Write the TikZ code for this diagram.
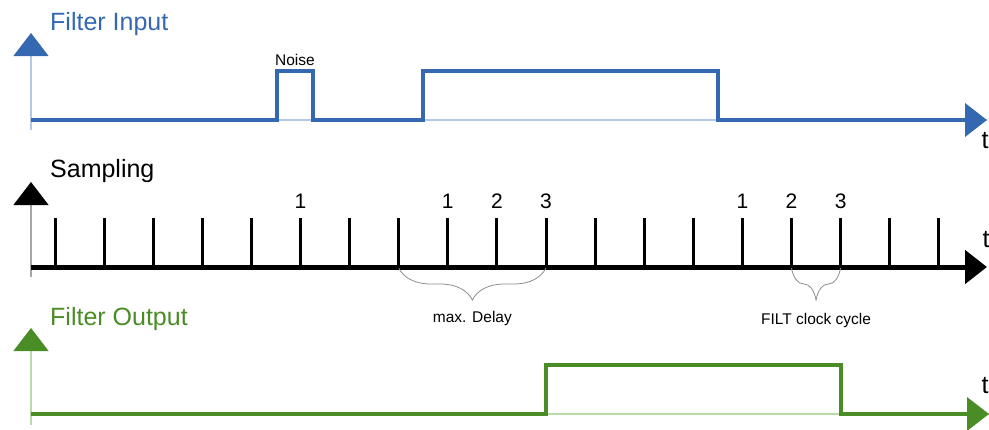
\documentclass[tikz,border=0pt]{standalone}
\usepackage{fontspec}
\setmainfont{Liberation Sans}
\usetikzlibrary{arrows.meta,decorations.pathreplacing,calc}
\definecolor{inblue}{RGB}{52,104,176}
\definecolor{inlight}{RGB}{178,200,228}
\definecolor{outgreen}{RGB}{74,140,38}
\definecolor{outlight}{RGB}{186,218,166}
\definecolor{axgray}{RGB}{165,165,165}
\definecolor{brgray}{RGB}{140,140,140}
\tikzset{
  title/.style={anchor=base west,inner sep=0,font=\fontsize{25}{30}\selectfont},
  small/.style={anchor=base,inner sep=0,font=\fontsize{15.5}{19}\selectfont},
  num/.style={anchor=base,inner sep=0,font=\fontsize{21}{25}\selectfont},
  tlbl/.style={anchor=base,inner sep=0,font=\fontsize{25}{30}\selectfont},
  yaxis/.style={line width=1.2pt,-{Triangle[length=23pt,width=35pt,color=#1]}},
  xaxis/.style={-{Triangle[length=22pt,width=33pt]}},
  brace/.style={draw=brgray,line width=0.8pt,decorate,decoration={brace,mirror,amplitude=32pt}}
}
\begin{document}
\begin{tikzpicture}[x=1pt,y=-1pt]
\useasboundingbox (0,0) rectangle (989,429);
\coordinate (iO) at (31,120);\coordinate (iB) at (31,130);\coordinate (iY) at (31,33);\coordinate (iT) at (987,120);
\coordinate (n1) at (277,71);\coordinate (n2) at (313,71);\coordinate (p1) at (423,71);\coordinate (p2) at (718,71);
\draw[inlight,yaxis=inblue](iB)--(iY);
\draw[inlight,line width=1.2pt](iO)--(iT);
\draw[inblue,line width=4pt,xaxis](iO)--(n1|-iO)--(n1)--(n2)--(n2|-iO)--(p1|-iO)--(p1)--(p2)--(p2|-iO)--(iT);
\node[title,inblue] (tin) at (50,30) {Filter Input};
\node[small] (noise) at ($(n1)!0.5!(n2)+(0,-6)$) {Noise};
\node[tlbl] (ti) at (985,148) {t};
\coordinate (sO) at (31,267);\coordinate (sB) at (31,277);\coordinate (sY) at (31,182);\coordinate (sT) at (987,267);
\draw[axgray,yaxis=black](sB)--(sY);
\draw[line width=5pt,xaxis](sO)--(sT);
\foreach \i in {1,...,19}{
  \coordinate (b\i) at ({55+49.1*(\i-1)},267);
  \coordinate (k\i) at ({55+49.1*(\i-1)},218);
  \draw[line width=3pt](b\i)--(k\i);
}
\foreach \i/\n in {6/1,9/1,10/2,11/3,15/1,16/2,17/3}
  \node[num] (c\i) at ($(k\i)+(0,-10)$) {\n};
\draw[brace]($(b8)+(0,1)$)--($(b11)+(0,1)$);
\draw[brace]($(b16)+(0,1)$)--($(b17)+(0,1)$);
\node[small] (delay) at ($(b8)!0.5!(b11)+(0,55)$) {max. Delay};
\node[small] (filt) at ($(b16)!0.5!(b17)+(0,57)$) {FILT clock cycle};
\node[title] (tsa) at (50,177) {Sampling};
\node[tlbl] (ts) at (986,247) {t};
\coordinate (oO) at (31,414);\coordinate (oB) at (31,425);\coordinate (oY) at (31,328);\coordinate (oT) at (989,414);
\coordinate (q1) at (546,365);\coordinate (q2) at (841,365);
\draw[outlight,yaxis=outgreen](oB)--(oY);
\draw[outlight,line width=1.2pt](oO)--(oT);
\draw[outgreen,line width=4pt,xaxis](oO)--(q1|-oO)--(q1)--(q2)--(q2|-oO)--(oT);
\node[title,outgreen] (tout) at (50,325) {Filter Output};
\node[tlbl] (to) at (985,393) {t};
\end{tikzpicture}
\end{document}
